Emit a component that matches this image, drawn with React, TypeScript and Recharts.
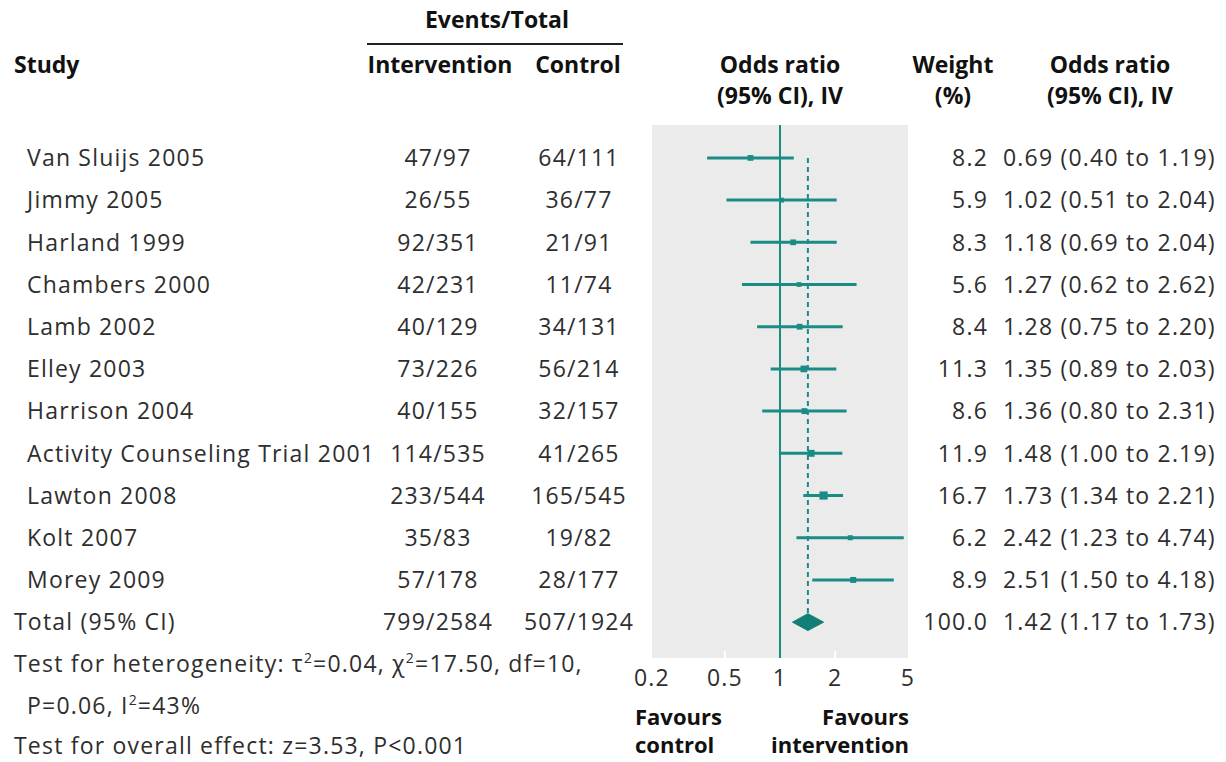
import {
  ScatterChart,
  Scatter,
  XAxis,
  YAxis,
  ErrorBar,
  ReferenceLine,
  ReferenceArea,
} from 'recharts'

const studies = [
  'Van Sluijs 2005',
  'Jimmy 2005',
  'Harland 1999',
  'Chambers 2000',
  'Lamb 2002',
  'Elley 2003',
  'Harrison 2004',
  'Activity Counseling Trial 2001',
  'Lawton 2008',
  'Kolt 2007',
  'Morey 2009',
]
const intervention = ['47/97', '26/55', '92/351', '42/231', '40/129', '73/226', '40/155', '114/535', '233/544', '35/83', '57/178']
const control = ['64/111', '36/77', '21/91', '11/74', '34/131', '56/214', '32/157', '41/265', '165/545', '19/82', '28/177']
const weights = [8.2, 5.9, 8.3, 5.6, 8.4, 11.3, 8.6, 11.9, 16.7, 6.2, 8.9]
const oddsRatio = [0.69, 1.02, 1.18, 1.27, 1.28, 1.35, 1.36, 1.48, 1.73, 2.42, 2.51]
const lower = [0.4, 0.51, 0.69, 0.62, 0.75, 0.89, 0.8, 1.0, 1.34, 1.23, 1.5]
const upper = [1.19, 2.04, 2.04, 2.62, 2.2, 2.03, 2.31, 2.19, 2.21, 4.74, 4.18]

const totalLabel = 'Total (95% CI)'
const totalIntervention = '799/2584'
const totalControl = '507/1924'
const totalWeight = 100.0
const totalOr = 1.42
const totalLower = 1.17
const totalUpper = 1.73

const xTicks = [0.2, 0.5, 1, 2, 5]

const TEAL = '#1b8b85'
const DIAMOND = '#0f7f78'
const INK = '#2e2e2e'
const FONT = '"Open Sans", sans-serif'
const FS = 23
const LS = 1.2

const totalRow = studies.length
const rowTicks = [...studies.map((_, i) => i), totalRow]

const studyPoints = studies.map((_, i) => ({
  x: oddsRatio[i],
  y: i,
  err: [oddsRatio[i] - lower[i], upper[i] - oddsRatio[i]],
  weight: weights[i],
}))

// diamond for the pooled estimate, drawn as a closed joint line
const diamondHalf = 0.2
const diamond = [
  { x: totalLower, y: totalRow },
  { x: totalOr, y: totalRow - diamondHalf },
  { x: totalUpper, y: totalRow },
  { x: totalOr, y: totalRow + diamondHalf },
  { x: totalLower, y: totalRow },
]

const fmtCi = (v: number, lo: number, hi: number) =>
  `${v.toFixed(2)} (${lo.toFixed(2)} to ${hi.toFixed(2)})`

function RowTick(props: any) {
  const { y, payload } = props
  const i = payload.value
  const isTotal = i === totalRow
  const name = isTotal ? totalLabel : studies[i]
  const iv = isTotal ? totalIntervention : intervention[i]
  const ct = isTotal ? totalControl : control[i]
  const w = isTotal ? totalWeight : weights[i]
  const ci = isTotal ? fmtCi(totalOr, totalLower, totalUpper) : fmtCi(oddsRatio[i], lower[i], upper[i])
  return (
    <g fontFamily={FONT} fontSize={FS} fill={INK} letterSpacing={LS}>
      <text x={isTotal ? 14 : 27} y={y} dy="0.36em">{name}</text>
      <text x={438} y={y} dy="0.36em" textAnchor="middle">{iv}</text>
      <text x={579} y={y} dy="0.36em" textAnchor="middle">{ct}</text>
      <text x={988} y={y} dy="0.36em" textAnchor="end">{w.toFixed(1)}</text>
      <text x={1003} y={y} dy="0.36em">{ci}</text>
    </g>
  )
}

function AxisTick(props: any) {
  const { x, y, payload } = props
  const mark = payload.value === 0.5 || payload.value === 2
  return (
    <g>
      {mark && <line x1={x} x2={x} y1={y - 19} y2={y - 12} stroke="#fff" strokeWidth={2} />}
      <text
        x={x}
        y={y}
        dy="0.71em"
        textAnchor="middle"
        fontFamily={FONT}
        fontSize={FS}
        letterSpacing={LS}
        fill={INK}
      >
        {payload.value}
      </text>
    </g>
  )
}

function WeightSquare(props: any) {
  const { cx, cy, payload } = props
  const s = 2 * Math.sqrt(payload.weight)
  return <rect x={cx - s / 2} y={cy - s / 2} width={s} height={s} fill={TEAL} />
}

export default function App() {
  const bold = { fontFamily: FONT, fontSize: 23, fontWeight: 700, fill: '#111' } as const
  const plain = { fontFamily: FONT, fontSize: FS, fill: INK, letterSpacing: LS } as const
  return (
    <div style={{ position: 'absolute', left: 0, top: 0, width: 1226, height: 762, background: '#fff' }}>
      <ScatterChart width={1226} height={762} margin={{ top: 125, right: 318, bottom: 74, left: 651 }}>
        <XAxis
          type="number"
          dataKey="x"
          scale="log"
          domain={[0.2, 5]}
          ticks={xTicks}
          interval={0}
          allowDataOverflow
          axisLine={false}
          tickLine={false}
          tickSize={0}
          tickMargin={12}
          height={30}
          tick={AxisTick}
        />
        <YAxis
          type="number"
          dataKey="y"
          domain={[-0.78, 11.85]}
          reversed
          ticks={rowTicks}
          interval={0}
          allowDataOverflow
          width={1}
          axisLine={false}
          tickLine={false}
          tick={RowTick}
        />
        <ReferenceArea x1={0.2} x2={5} fill="#ebebeb" fillOpacity={1} stroke="none" />
        <ReferenceLine x={1} stroke={TEAL} strokeWidth={2} />
        <ReferenceLine
          segment={[
            { x: totalOr, y: 0 },
            { x: totalOr, y: totalRow - diamondHalf },
          ]}
          stroke={TEAL}
          strokeWidth={2}
          strokeDasharray="5 4"
        />
        <Scatter data={studyPoints} fill={TEAL} shape={WeightSquare} isAnimationActive={false}>
          <ErrorBar dataKey="err" direction="x" width={0} stroke={TEAL} strokeWidth={3} />
        </Scatter>
        <Scatter
          data={diamond}
          fill={DIAMOND}
          line={{ fill: DIAMOND, stroke: DIAMOND, strokeWidth: 1 }}
          lineType="joint"
          shape={() => <g />}
          isAnimationActive={false}
        />
      </ScatterChart>

      <svg width={1226} height={762} style={{ position: 'absolute', left: 0, top: 0, pointerEvents: 'none' }}>
        <text x={497} y={28} textAnchor="middle" {...bold}>Events/Total</text>
        <line x1={367} x2={623} y1={44} y2={44} stroke="#222" strokeWidth={2} />
        <text x={14} y={73} {...bold}>Study</text>
        <text x={440} y={73} textAnchor="middle" {...bold}>Intervention</text>
        <text x={578} y={73} textAnchor="middle" {...bold}>Control</text>
        <text x={780} y={73} textAnchor="middle" {...bold}>Odds ratio</text>
        <text x={780} y={104} textAnchor="middle" {...bold}>(95% CI), IV</text>
        <text x={953} y={73} textAnchor="middle" {...bold}>Weight</text>
        <text x={953} y={104} textAnchor="middle" {...bold}>(%)</text>
        <text x={1110} y={73} textAnchor="middle" {...bold}>Odds ratio</text>
        <text x={1110} y={104} textAnchor="middle" {...bold}>(95% CI), IV</text>

        <text x={14} y={672} {...plain}>
          Test for heterogeneity: τ<tspan dy={-9} fontSize={14}>2</tspan>
          <tspan dy={9}>=0.04, χ</tspan>
          <tspan dy={-9} fontSize={14}>2</tspan>
          <tspan dy={9}>=17.50, df=10,</tspan>
        </text>
        <text x={27} y={714} {...plain}>
          P=0.06, I<tspan dy={-9} fontSize={14}>2</tspan>
          <tspan dy={9}>=43%</tspan>
        </text>
        <text x={14} y={754} {...plain}>Test for overall effect: z=3.53, P&lt;0.001</text>

        <text x={635} y={725} {...bold} fontSize={22}>Favours</text>
        <text x={635} y={753} {...bold} fontSize={22}>control</text>
        <text x={909} y={725} textAnchor="end" {...bold} fontSize={22}>Favours</text>
        <text x={909} y={753} textAnchor="end" {...bold} fontSize={22}>intervention</text>
      </svg>
    </div>
  )
}
